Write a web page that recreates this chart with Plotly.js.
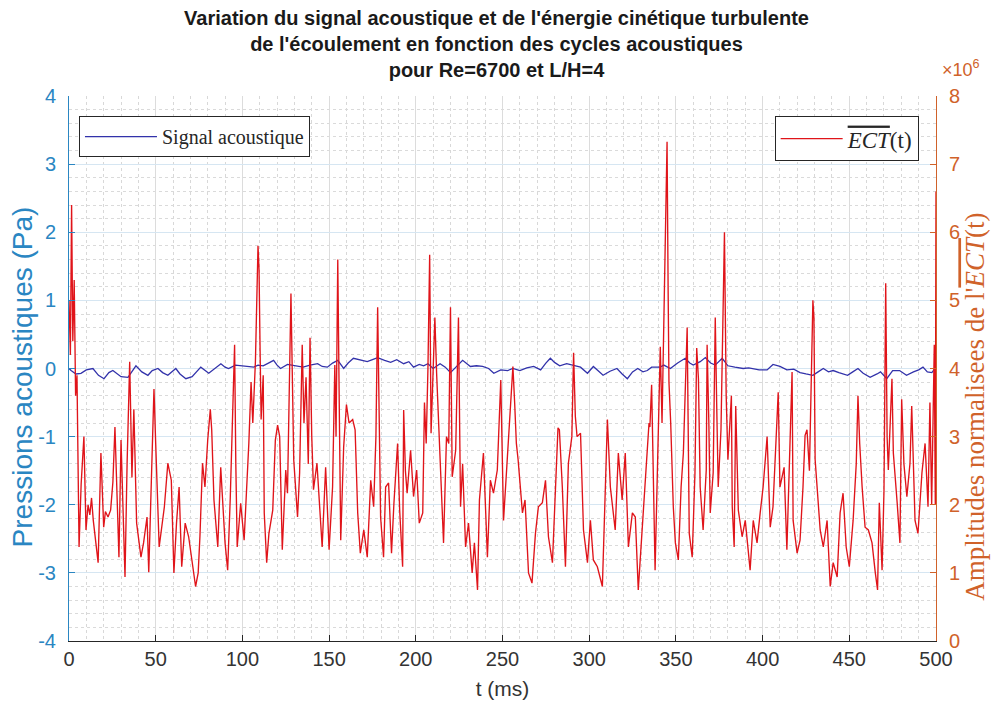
<!DOCTYPE html>
<html>
<head>
<meta charset="utf-8">
<script src="https://cdn.plot.ly/plotly-3.0.1.min.js"></script>
<style>
html,body{margin:0;padding:0;background:#fff;}
#chart{width:993px;height:708px;}
</style>
</head>
<body>
<div id="chart"></div>
<script>
// ---- Data ----
// Acoustic pressure signal (Pa), left axis
const blueT = [0,1.2,4,6.9,10,13.8,17,20.2,23,25.3,30,34,38.6,42,45.5,48,51.3,54,57,59,61.6,64,67.4,71,73.5,76,80.6,84,87.6,90,92,96,99,103,106.6,109,112,115,118,120,122,126,129.6,132,135,139,143.4,146,149,152,155,158.4,161,164,168,172,175,178,182,185.5,189,193,196,198.7,202,204.5,207,210,214,217,220,224,227,231.5,235,238.5,242,245,249,253,256,260,264,268,272,275,277.6,280,283,287,291,295,299,302.4,305,308,312,316,319,322,325,328,331,333.5,336,339,341,343,346.8,351,355.4,358,360,364,367,370,372.7,376.7,380,384,388.8,392,394.6,398,402.6,406,410,414,418,421.6,425,429,432,435,438,440.7,444,449,452,455,458,462,466,468,471.6,475,479,483,487,490,492.5,495,497.6,500];
const blueV = [0.0,-0.03,-0.08,-0.07,-0.02,0.0,-0.1,-0.15,-0.06,-0.03,-0.12,-0.13,0.04,-0.05,-0.1,-0.03,0.0,-0.06,-0.1,-0.05,0.0,-0.08,-0.15,-0.12,-0.05,0.02,-0.07,0.0,0.07,0.02,0.0,0.05,0.04,0.03,0.02,0.05,0.04,0.08,0.12,0.05,0.0,0.06,0.04,0.03,0.02,0.05,0.07,0.03,0.02,0.08,0.12,0.0,0.08,0.15,0.12,0.1,0.13,0.16,0.12,0.09,0.13,0.07,0.1,0.02,0.06,0.04,0.07,0.0,0.07,0.02,-0.06,0.05,0.12,0.03,0.04,0.03,0.0,-0.07,-0.02,-0.03,0.0,-0.03,0.01,0.03,-0.02,0.08,0.15,0.09,0.04,0.07,0.05,0.02,-0.07,0.03,-0.03,-0.1,-0.04,0.0,-0.08,-0.15,-0.05,0.0,-0.05,-0.03,0.02,0.02,0.02,0.05,0.0,0.08,0.15,0.08,0.05,0.1,0.16,0.08,0.05,0.15,0.04,0.02,0.0,0.01,0.0,-0.02,-0.02,0.06,0.03,-0.02,-0.01,-0.06,-0.08,-0.1,-0.05,0.0,-0.05,-0.03,-0.06,-0.1,-0.05,0.0,-0.07,-0.13,-0.08,-0.05,-0.15,-0.03,-0.03,-0.1,-0.05,-0.02,0.02,-0.05,-0.06,0.02];

// Normalised turbulent kinetic energy ECT (x 10^6), right axis
const redT = [0,0.8,1.5,2.2,3.0,3.8,4.6,5.8,7,8,8.6,9.8,11,12,13,14,15.5,16.8,18.4,20,21,22.5,24,25.3,26.5,28.8,30,32.3,33.5,35,36.3,37.4,39,41.5,43,45,46,47.5,49,50,52,55,57,59,60.5,62,63.5,65,67,69,71,73,74.5,75.5,77,78.4,80,81.5,82.3,83.6,85.8,87.5,90,91.5,93,94.5,95.5,96.2,97,99,101,103.7,105,106,107.5,109,109.6,110.2,110.8,112,112.6,114,115.3,117.5,119,120.3,121.5,123,125,126,128,129.6,131.8,133,134.5,135.5,136.7,138,139,140,141,143,146,148,150,152,153.3,154,155,155.8,156.7,158.4,160,161.5,163.6,165,166.5,168,170,172,174,175.7,177,178,179,179.7,181.4,182.6,184.3,186,187.4,189.5,190.7,192.4,193,194,195,197,198.7,200.5,202,204,205,206,207,208,208.8,210,211,212,213.5,214,216,217.7,219,220,220.6,221,223,224.6,225.8,227,228.7,230.4,232.5,233.8,235.6,236.7,239,241.3,243,244.8,247,249,250.6,253.5,256,257,258,259,261.5,263,265,267,268,269,270.7,273,274.8,276.5,278.8,280.5,282,282.8,284.5,286.3,288,290,291,292,293,295,296.7,299,300.7,302.4,304.7,307.6,309,310.5,312.2,315,316.8,319,320.8,322.6,324.9,326.6,328.3,330.6,333.5,334.5,335,336,338,340,341,342,343,344.3,344.9,345.5,346,347,348.5,349.7,351.4,353,354.3,356.5,357,357.7,359.4,361,362,363,364,365.7,367.5,368,369,369.8,371.5,372.7,373.5,374.4,376,377,378,379,380,382,382.5,383.6,384.5,386,388.2,390,391.7,392.8,394.6,396.8,398.6,400.3,402.6,404.4,406,408,409,410,412.4,414,416,417,417.6,419.9,421.6,423.3,424.5,425.6,427,429,429.6,430.3,433.2,435,437.2,439,440.7,443,444.7,446.4,448.2,450,452.2,454,455,456,457.4,459.1,461,463.1,465,466.3,467.3,468.9,470,471,471.8,472.5,474.6,475.4,477.6,479.2,480.2,481.5,483.2,485,486,487,487.9,489.6,491.9,493.7,495.4,496.5,497.5,499,499.6,500];
const redV = [5.0,4.2,6.4,4.4,5.3,3.6,3.9,1.38,2.3,2.76,3.0,1.63,2.0,1.85,2.1,1.77,1.38,1.15,2.76,1.67,1.9,1.82,1.92,2.33,3.14,1.23,2.95,0.94,2.6,4.1,2.4,3.4,1.73,1.23,1.44,1.82,1.01,2.2,3.7,2.9,1.38,1.97,2.61,2.36,1.0,1.73,2.26,1.09,1.73,1.53,1.15,0.8,1.0,1.53,2.61,2.26,2.95,3.4,3.1,2.07,1.38,2.55,1.44,1.04,2.1,3.3,4.35,2.6,1.38,2.02,1.48,2.9,3.8,3.2,4.1,5.8,5.45,4.27,3.25,3.9,1.88,1.15,1.58,1.92,2.95,3.17,3.0,1.34,2.51,2.17,5.1,2.66,1.82,2.47,4.35,3.2,3.87,2.6,4.45,3.0,2.22,2.61,1.38,2.55,1.34,2.26,4.05,3.0,5.6,3.6,1.48,2.85,3.47,3.2,3.25,3.1,1.88,1.29,1.63,1.23,2.36,1.97,3.0,4.9,3.3,1.82,1.23,2.26,2.32,1.29,2.03,2.9,1.92,1.09,3.39,2.5,2.17,2.8,2.12,2.51,1.73,1.88,3.5,2.9,4.0,5.67,3.05,3.9,4.75,3.93,2.95,2.55,1.44,3.0,2.9,4.9,2.85,2.41,2.8,4.75,1.97,2.6,1.38,1.73,1.0,1.44,0.75,2.07,2.76,1.23,2.36,2.17,2.51,3.83,1.77,3.05,4.03,3.5,2.9,2.66,1.88,2.07,1.0,0.85,1.2,1.58,1.97,2.03,2.36,1.53,1.15,2.12,3.13,3.1,2.26,1.09,2.61,3.0,4.23,3.3,3.0,3.05,1.63,1.15,1.77,1.19,1.09,0.8,2.0,3.25,2.26,1.63,2.76,2.07,2.76,1.38,1.88,1.82,0.75,1.63,2.7,3.2,3.14,3.76,1.04,3.25,4.32,3.2,4.5,6.65,7.33,5.2,3.8,3.2,1.97,1.44,1.19,2.26,2.76,4.6,3.0,1.58,1.23,2.47,4.3,3.85,2.26,1.63,2.51,4.35,3.2,1.88,2.47,4.75,3.5,2.26,3.1,4.85,6.0,3.6,2.66,3.6,1.97,1.38,3.45,1.92,1.53,1.77,1.38,1.04,1.77,1.44,1.88,2.26,3.0,1.67,1.97,3.0,3.65,2.26,2.55,1.34,3.2,3.95,1.77,1.29,1.48,2.26,3.02,3.1,2.5,5.0,4.75,2.66,1.63,1.38,1.77,0.8,1.15,0.94,1.88,2.17,1.38,1.09,1.77,2.6,3.6,2.9,2.26,1.67,1.63,1.44,1.0,0.75,2.03,1.04,2.2,5.25,3.0,2.51,3.85,2.76,2.03,1.44,3.55,2.6,2.12,2.61,3.45,2.6,1.77,1.58,2.47,2.9,1.97,3.5,2.0,4.35,2.0,6.6];

const xTicks = [0,50,100,150,200,250,300,350,400,450,500];
const yLeftTicks = [-4,-3,-2,-1,0,1,2,3,4];
const yRightTicks = [0,1,2,3,4,5,6,7,8];

// ---- Styles ----
const BLUE_AX = '#2a86c2';
const ORANGE_AX = '#d0622a';
const DARK = '#262626';
const SANS = 'Liberation Sans, Arial, sans-serif';
const SERIF = 'Liberation Serif, DejaVu Serif, serif';

const traces = [
  {
    x: blueT, y: blueV, type: 'scatter', mode: 'lines',
    name: 'Signal acoustique',
    line: {color: '#3232aa', width: 1.3},
    yaxis: 'y', legend: 'legend'
  },
  {
    x: redT, y: redV, type: 'scatter', mode: 'lines',
    name: '<span style="text-decoration:overline"><i>ECT</i></span>(t)',
    line: {color: '#e0141a', width: 1.35},
    yaxis: 'y2', legend: 'legend2'
  }
];

const layout = {
  width: 993, height: 708,
  paper_bgcolor: '#ffffff', plot_bgcolor: '#ffffff',
  margin: {l: 69, r: 57, t: 96, b: 67},
  showlegend: true,
  title: {
    text: "Variation du signal acoustique et de l'énergie cinétique turbulente<br>de l'écoulement en fonction des cycles acoustiques<br>pour Re=6700 et L/H=4",
    font: {family: SANS, size: 20, color: '#1a1a1a', weight: 'bold'},
    x: 0.5, xanchor: 'center', xref: 'container',
    y: 0.964, yanchor: 'top', yref: 'container'
  },
  xaxis: {
    range: [0, 500],
    tickvals: xTicks, ticktext: xTicks.map(String),
    ticks: 'inside', ticklen: 6, tickcolor: DARK, tickwidth: 1,
    showline: true, linecolor: DARK, linewidth: 1, mirror: false,
    showgrid: true, gridcolor: '#dcdcdc', gridwidth: 1,
    minor: {dtick: 10, showgrid: true, gridcolor: '#d8d8d8', griddash: 'dot', gridwidth: 1, ticks: ''},
    zeroline: false,
    tickfont: {family: SANS, size: 20, color: '#333333'},
    title: {text: 't (ms)', font: {family: SANS, size: 21, color: '#333333'}, standoff: 12},
    automargin: false
  },
  yaxis: {
    range: [-4, 4],
    tickvals: yLeftTicks, ticktext: yLeftTicks.map(String),
    ticks: 'inside', ticklen: 6, tickcolor: BLUE_AX, tickwidth: 1,
    showline: true, linecolor: BLUE_AX, linewidth: 1,
    showgrid: true, gridcolor: '#d6e6f2', gridwidth: 1,
    minor: {dtick: 0.2, showgrid: true, gridcolor: '#dadada', griddash: 'dot', gridwidth: 1, ticks: ''},
    zeroline: false,
    ticklabelstandoff: 8,
    tickfont: {family: SANS, size: 20, color: BLUE_AX},
    automargin: false
  },
  yaxis2: {
    range: [0, 8], overlaying: 'y', side: 'right',
    tickvals: yRightTicks, ticktext: yRightTicks.map(String),
    ticks: 'inside', ticklen: 6, tickcolor: ORANGE_AX, tickwidth: 1,
    showline: true, linecolor: ORANGE_AX, linewidth: 1,
    showgrid: false, zeroline: false,
    ticklabelstandoff: 8,
    tickfont: {family: SANS, size: 20, color: ORANGE_AX},
    automargin: false
  },
  legend: {
    x: 0.0115, y: 0.963, xanchor: 'left', yanchor: 'top',
    xref: 'paper', yref: 'paper',
    bgcolor: '#ffffff', bordercolor: DARK, borderwidth: 1,
    font: {family: SERIF, size: 20, color: DARK}, itemwidth: 72
  },
  legend2: {
    x: 0.98, y: 0.963, xanchor: 'right', yanchor: 'top',
    xref: 'paper', yref: 'paper',
    bgcolor: '#ffffff', bordercolor: DARK, borderwidth: 1,
    font: {family: SERIF, size: 23, color: DARK}, itemwidth: 62
  },
  annotations: [
    {
      text: 'Pressions acoustiques (Pa)', textangle: -90,
      xref: 'paper', yref: 'paper', x: -0.054, y: 0.484,
      xanchor: 'center', yanchor: 'middle', showarrow: false,
      font: {family: SANS, size: 28, color: BLUE_AX}
    },
    {
      text: "Amplitudes normalisees de l'<span style=\"text-decoration:overline\"><i>ECT</i></span>(t)", textangle: -90,
      xref: 'paper', yref: 'paper', x: 1.045, y: 0.43,
      xanchor: 'center', yanchor: 'middle', showarrow: false,
      font: {family: SERIF, size: 27, color: ORANGE_AX}
    },
    {
      text: '×10<sup>6</sup>', xref: 'paper', yref: 'paper',
      x: 1.005, y: 1.05, xanchor: 'left', yanchor: 'middle',
      showarrow: false,
      font: {family: SANS, size: 18, color: ORANGE_AX}
    }
  ]
};

Plotly.newPlot('chart', traces, layout, {displayModeBar: false, staticPlot: true});
</script>
</body>
</html>
